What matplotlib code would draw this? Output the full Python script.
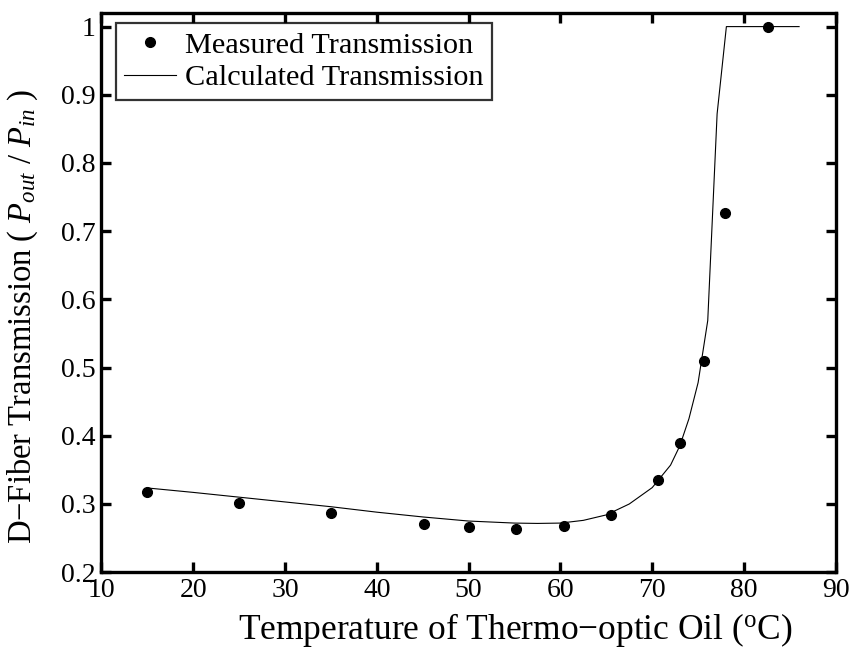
import matplotlib
matplotlib.use('Agg')
import matplotlib.pyplot as plt

plt.rcParams['font.family'] = 'Liberation Serif'
plt.rcParams['mathtext.fontset'] = 'custom'
plt.rcParams['mathtext.rm'] = 'Liberation Serif'
plt.rcParams['mathtext.it'] = 'Liberation Serif:italic'

# measured points
temp_meas = [15, 25, 35, 45.1, 50.0, 55.2, 60.4, 65.5, 70.6, 73.0, 75.6, 77.9, 82.6]
trans_meas = [0.318, 0.302, 0.287, 0.271, 0.266, 0.264, 0.268, 0.284, 0.335, 0.390, 0.509, 0.726, 1.0]

# calculated curve
temp_calc = [15, 20, 25, 30, 35, 40, 45, 50, 55, 57.5, 60, 62.5, 65, 67.5, 70, 72,
             73, 74, 75, 76.05, 77.07, 78.08, 80, 86]
trans_calc = [0.3235, 0.317, 0.310, 0.303, 0.296, 0.288, 0.281, 0.275, 0.272, 0.2715,
              0.272, 0.276, 0.284, 0.300, 0.324, 0.357, 0.385, 0.425, 0.478, 0.569,
              0.872, 1.0, 1.0, 1.0]

fig = plt.figure(figsize=(8.52, 6.48), dpi=100)
ax = fig.add_axes([0.119, 0.117, 0.862, 0.863])

ax.plot(temp_meas, trans_meas, 'o', color='black', markersize=7, linestyle='none',
        label='Measured Transmission')
ax.plot(temp_calc, trans_calc, '-', color='black', linewidth=0.8,
        label='Calculated Transmission')

ax.set_xlim(10, 90)
ax.set_ylim(0.2, 1.02)
ax.set_xticks([10, 20, 30, 40, 50, 60, 70, 80, 90])
ax.set_yticks([0.2, 0.3, 0.4, 0.5, 0.6, 0.7, 0.8, 0.9, 1.0])
ax.set_yticklabels(['0.2', '0.3', '0.4', '0.5', '0.6', '0.7', '0.8', '0.9', '1'])

ax.tick_params(direction='in', length=7, width=2.4, labelsize=20,
               top=True, right=True, pad=4)
for s in ax.spines.values():
    s.set_linewidth(2.4)

ax.set_xlabel('Temperature of Thermo\u2212optic Oil ($\\mathrm{^{o}}$C)', fontsize=25.5)
ax.set_ylabel('D\u2212Fiber Transmission ( $P_{out}$ / $P_{in}$ )', fontsize=23.5)
ax.xaxis.set_label_coords(0.563, -0.07)
ax.yaxis.set_label_coords(-0.083, 0.458)

leg = ax.legend(loc='upper left', bbox_to_anchor=(0.0195, 0.982), borderaxespad=0,
                fontsize=21.8, handlelength=1.7, handletextpad=0.3,
                borderpad=0.28, labelspacing=0.18, fancybox=False,
                frameon=True, edgecolor='black')
leg.get_frame().set_linewidth(1.6)

fig.savefig('out.png', dpi=100)
